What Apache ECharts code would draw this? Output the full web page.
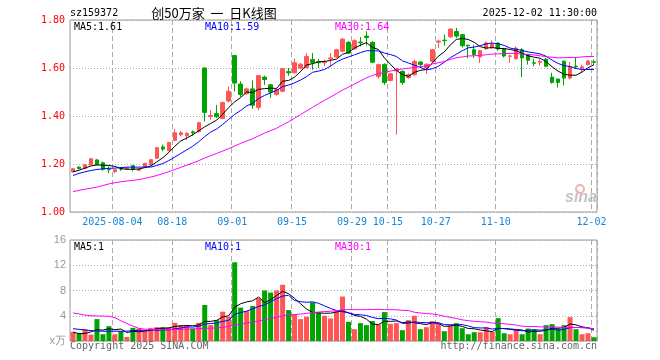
<!DOCTYPE html>
<html><head><meta charset="utf-8">
<script src="https://cdn.jsdelivr.net/npm/echarts@6/dist/echarts.min.js"></script>
<style>html,body{margin:0;padding:0;background:#fff}#c{width:660px;height:360px}</style>
</head><body><div id="c"></div>
<script>
const dates = ['2025-07-24','2025-07-25','2025-07-28','2025-07-29','2025-07-30','2025-07-31',
'2025-08-01','2025-08-04','2025-08-05','2025-08-06','2025-08-07','2025-08-08','2025-08-11','2025-08-12','2025-08-13','2025-08-14','2025-08-15','2025-08-18','2025-08-19','2025-08-20','2025-08-21','2025-08-22','2025-08-25','2025-08-26','2025-08-27','2025-08-28','2025-08-29',
'2025-09-01','2025-09-02','2025-09-03','2025-09-04','2025-09-05','2025-09-08','2025-09-09','2025-09-10','2025-09-11','2025-09-12','2025-09-15','2025-09-16','2025-09-17','2025-09-18','2025-09-19','2025-09-22','2025-09-23','2025-09-24','2025-09-25','2025-09-26','2025-09-29','2025-09-30',
'2025-10-09','2025-10-10','2025-10-13','2025-10-14','2025-10-15','2025-10-16','2025-10-17','2025-10-20','2025-10-21','2025-10-22','2025-10-23','2025-10-24','2025-10-27','2025-10-28','2025-10-29','2025-10-30','2025-10-31',
'2025-11-03','2025-11-04','2025-11-05','2025-11-06','2025-11-07','2025-11-10','2025-11-11','2025-11-12','2025-11-13','2025-11-14','2025-11-17','2025-11-18','2025-11-19','2025-11-20','2025-11-21','2025-11-24','2025-11-25','2025-11-26','2025-11-27','2025-11-28',
'2025-12-01','2025-12-02'];
const labelIdx = [7,17,27,37,47,53,61,71,87];

const opens = [1.168,1.187,1.181,1.197,1.217,1.205,1.178,1.168,1.180,1.179,
1.193,1.174,1.187,1.197,1.224,1.271,1.256,1.299,1.322,1.318,
1.334,1.335,1.600,1.398,1.410,1.390,1.462,1.652,1.533,1.493,
1.513,1.436,1.562,1.530,1.490,1.503,1.585,1.580,1.600,1.602,
1.635,1.626,1.622,1.638,1.646,1.670,1.707,1.680,1.708,1.733,
1.707,1.565,1.614,1.548,1.588,1.586,1.560,1.572,1.625,1.600,
1.628,1.708,1.716,1.730,1.752,1.739,1.695,1.676,1.646,1.680,
1.685,1.704,1.680,1.649,1.638,1.676,1.655,1.622,1.624,1.637,
1.562,1.554,1.628,1.558,1.608,1.600,1.614,1.626];
const closes = [1.180,1.181,1.197,1.222,1.198,1.178,1.176,1.176,1.179,1.183,
1.178,1.180,1.203,1.218,1.268,1.262,1.290,1.330,1.330,1.328,
1.330,1.372,1.415,1.402,1.397,1.456,1.503,1.537,1.490,1.513,
1.445,1.568,1.552,1.500,1.510,1.597,1.580,1.622,1.616,1.648,
1.622,1.622,1.625,1.642,1.676,1.720,1.662,1.714,1.705,1.727,
1.624,1.614,1.540,1.576,1.596,1.540,1.572,1.627,1.615,1.616,
1.676,1.712,1.714,1.762,1.733,1.693,1.692,1.656,1.672,1.704,
1.700,1.679,1.650,1.650,1.683,1.642,1.632,1.620,1.627,1.607,
1.540,1.540,1.558,1.607,1.605,1.605,1.629,1.624];
const lows = [1.165,1.178,1.179,1.195,1.195,1.172,1.162,1.162,1.171,1.176,
1.170,1.172,1.185,1.195,1.222,1.253,1.253,1.295,1.316,1.300,
1.318,1.330,1.378,1.385,1.392,1.386,1.457,1.502,1.480,1.488,
1.430,1.425,1.530,1.476,1.485,1.500,1.568,1.578,1.595,1.598,
1.593,1.600,1.607,1.607,1.642,1.665,1.658,1.676,1.690,1.693,
1.620,1.555,1.530,1.544,1.322,1.530,1.555,1.568,1.600,1.576,
1.625,1.684,1.693,1.727,1.725,1.685,1.640,1.642,1.621,1.676,
1.680,1.672,1.644,1.621,1.635,1.562,1.614,1.607,1.610,1.603,
1.535,1.519,1.527,1.552,1.596,1.582,1.610,1.614];
const highs = [1.183,1.190,1.199,1.224,1.220,1.210,1.190,1.178,1.187,1.186,
1.196,1.182,1.205,1.220,1.270,1.281,1.292,1.347,1.338,1.332,
1.340,1.376,1.602,1.424,1.446,1.460,1.523,1.653,1.545,1.518,
1.548,1.570,1.568,1.533,1.516,1.600,1.600,1.639,1.620,1.662,
1.662,1.638,1.635,1.662,1.680,1.726,1.712,1.720,1.729,1.753,
1.712,1.618,1.620,1.580,1.600,1.590,1.578,1.635,1.628,1.618,
1.680,1.718,1.739,1.765,1.767,1.742,1.697,1.697,1.675,1.710,
1.715,1.708,1.684,1.656,1.690,1.683,1.658,1.637,1.637,1.642,
1.580,1.556,1.632,1.625,1.646,1.614,1.633,1.635];

const ma5 = [1.167,1.174,1.183,1.192,1.196,1.195,1.194,1.190,1.181,1.178,
1.178,1.179,1.185,1.192,1.209,1.226,1.248,1.274,1.296,1.308,
1.322,1.338,1.355,1.369,1.383,1.408,1.435,1.459,1.477,1.500,
1.498,1.511,1.514,1.516,1.515,1.545,1.548,1.562,1.585,1.613,
1.618,1.626,1.627,1.632,1.637,1.657,1.665,1.683,1.695,1.706,
1.686,1.677,1.642,1.616,1.590,1.573,1.565,1.582,1.590,1.594,
1.621,1.649,1.667,1.696,1.719,1.723,1.719,1.707,1.689,1.683,
1.685,1.682,1.681,1.677,1.672,1.661,1.651,1.645,1.641,1.626,
1.605,1.587,1.574,1.570,1.570,1.583,1.601,1.614];
const ma10 = [1.152,1.161,1.167,1.173,1.177,1.180,1.182,1.183,1.185,1.187,
1.187,1.187,1.187,1.187,1.194,1.202,1.214,1.229,1.244,1.259,
1.274,1.293,1.314,1.333,1.346,1.365,1.386,1.407,1.423,1.442,
1.453,1.473,1.486,1.496,1.507,1.522,1.529,1.538,1.550,1.564,
1.582,1.587,1.594,1.608,1.625,1.637,1.646,1.655,1.664,1.672,
1.672,1.671,1.662,1.656,1.648,1.630,1.621,1.612,1.603,1.592,
1.597,1.607,1.624,1.643,1.657,1.672,1.684,1.687,1.693,1.701,
1.704,1.701,1.694,1.683,1.678,1.673,1.667,1.663,1.659,1.649,
1.633,1.619,1.610,1.606,1.598,1.594,1.594,1.594];
const ma30 = [1.085,1.090,1.095,1.099,1.104,1.110,1.117,1.122,1.126,1.129,
1.132,1.135,1.140,1.146,1.152,1.160,1.168,1.177,1.186,1.195,
1.204,1.214,1.225,1.235,1.244,1.254,1.264,1.275,1.286,1.296,
1.305,1.317,1.329,1.339,1.349,1.363,1.376,1.391,1.406,1.421,
1.436,1.451,1.465,1.479,1.493,1.508,1.520,1.533,1.546,1.559,
1.569,1.577,1.581,1.587,1.593,1.596,1.599,1.602,1.606,1.609,
1.617,1.622,1.627,1.636,1.643,1.646,1.650,1.651,1.653,1.655,
1.658,1.659,1.660,1.661,1.661,1.658,1.657,1.654,1.651,1.647,
1.645,1.642,1.643,1.644,1.644,1.646,1.648,1.648];

const volumes = [1.44,1.17,1.87,1.01,3.47,1.07,2.35,1.07,1.55,0.64,
2.08,1.97,1.65,2.08,2.19,2.19,2.19,2.88,2.51,2.51,
1.97,2.88,5.70,2.51,3.30,4.64,3.84,12.47,5.28,4.74,
5.54,6.77,8.00,7.68,8.00,8.90,4.90,4.26,3.47,3.84,
6.13,4.53,4.00,3.57,4.74,7.04,3.04,1.87,2.83,2.51,
3.15,2.61,4.58,2.72,2.83,1.71,3.30,4.00,1.87,2.19,
3.15,2.72,1.55,2.40,2.83,2.03,1.07,1.39,1.39,2.19,
1.44,3.62,1.23,1.07,1.71,1.07,1.97,1.87,1.07,2.51,
2.67,1.97,2.51,3.78,1.87,1.07,1.23,0.59];
const volMa5 = [1.40,1.17,1.20,1.45,1.79,1.72,1.95,1.79,1.90,1.34,
1.54,1.46,1.58,1.68,1.99,2.02,2.06,2.31,2.39,2.46,
2.41,2.55,3.11,3.11,3.27,3.81,4.00,5.35,5.91,6.19,
6.37,6.96,6.07,6.55,7.20,7.87,7.50,6.75,5.91,5.07,
4.52,4.45,4.39,4.41,4.59,4.78,4.48,4.05,3.90,3.46,
2.68,2.59,3.14,3.11,3.18,2.89,3.03,2.91,2.74,2.61,
2.90,2.79,2.30,2.40,2.53,2.31,1.98,1.94,1.74,1.61,
1.50,2.01,1.97,1.91,1.81,1.74,1.41,1.54,1.54,1.70,
2.02,2.02,2.15,2.69,2.56,2.24,2.09,1.71];
const volMa10 = [1.95,1.85,1.75,1.65,1.58,1.55,1.55,1.55,1.55,1.56,
1.63,1.71,1.69,1.79,1.67,1.78,1.76,1.94,2.04,2.23,
2.21,2.31,2.71,2.75,2.86,3.11,3.27,4.23,4.51,4.73,
5.09,5.48,5.71,6.23,6.70,7.12,7.23,6.41,6.23,6.14,
6.20,5.97,5.57,5.16,4.83,4.65,4.46,4.22,4.16,4.03,
3.73,3.54,3.59,3.51,3.32,2.79,2.81,3.02,2.93,2.90,
2.90,2.91,2.60,2.57,2.57,2.60,2.38,2.12,2.07,2.07,
1.90,1.99,1.96,1.83,1.71,1.62,1.71,1.76,1.72,1.76,
1.88,1.71,1.84,2.12,2.13,2.13,2.06,1.93];
const volMa30 = [4.45,4.30,4.10,4.00,3.97,3.95,3.92,3.70,3.20,2.77,
2.35,2.00,1.88,1.82,1.80,1.80,1.80,1.81,1.83,1.87,
1.92,1.97,2.00,2.03,2.07,2.15,2.35,2.50,2.68,2.84,
2.98,3.16,3.37,3.59,3.74,4.00,4.09,4.19,4.26,4.36,
4.50,4.59,4.66,4.71,4.80,4.96,4.99,4.95,4.97,4.97,
5.00,5.00,4.96,4.97,4.95,4.85,4.83,4.55,4.44,4.35,
4.27,4.14,3.92,3.75,3.57,3.35,3.22,3.12,3.05,3.00,
2.84,2.81,2.72,2.64,2.53,2.34,2.30,2.30,2.24,2.24,
2.23,2.20,2.14,2.17,2.14,2.12,2.05,1.94];

const upColor = '#ff5555', downColor = '#00a400';
const mono = '"DejaVu Sans Mono", monospace';
const chart = echarts.init(document.getElementById('c'), null, {renderer: 'canvas'});
const candleData = dates.map((d, i) => [opens[i], closes[i], lows[i], highs[i]]);
const volData = volumes.map((v, i) => ({value: v, itemStyle: {color: closes[i] >= opens[i] ? upColor : downColor}}));
const showIdx = (i) => labelIdx.indexOf(i) >= 0;
const vSplit = {show: true, interval: (i) => showIdx(i), lineStyle: {color: '#aaa', type: [5, 3], width: 1}};
const hSplit = {show: true, lineStyle: {color: '#aaa', type: [1, 2], width: 1}};
function txt(x, y, text, fill, align, font) {
  return {type: 'text', z: 100, style: {x: x, y: y, text: text, fill: fill, textAlign: align || 'left', textVerticalAlign: 'middle', font: font || ('10px ' + mono)}};
}
const line = (name, data, color, xi) => ({name: name, type: 'line', data: data, xAxisIndex: xi, yAxisIndex: xi, symbol: 'none', silent: true,
  lineStyle: {color: color, width: 1}, z: 5});

chart.setOption({
  animation: false,
  grid: [
    {left: 70, top: 20, width: 527, height: 192, show: true, borderColor: '#999', borderWidth: 1},
    {left: 70, top: 240, width: 527, height: 101, show: true, borderColor: '#999', borderWidth: 1}
  ],
  xAxis: [
    {type: 'category', gridIndex: 0, data: dates, boundaryGap: true, axisLine: {show: false}, axisTick: {show: false},
     axisLabel: {interval: (i) => showIdx(i), formatter: (v, i) => (i === 7 ? v : v.slice(5)), color: '#1b86d3', fontFamily: mono, fontSize: 10, margin: 5, padding: [0, 5, 0, 0]},
     splitLine: vSplit},
    {type: 'category', gridIndex: 1, data: dates, boundaryGap: true, axisLine: {show: false}, axisTick: {show: false}, axisLabel: {show: false},
     splitLine: vSplit}
  ],
  yAxis: [
    {type: 'value', gridIndex: 0, min: 1.0, max: 1.8, interval: 0.2, axisLine: {show: false}, axisTick: {show: false},
     axisLabel: {formatter: (v) => v.toFixed(2), color: '#ff0000', fontFamily: mono, fontSize: 10, margin: 5, padding: [3, 0, 0, 0]},
     splitLine: hSplit},
    {type: 'value', gridIndex: 1, min: 0, max: 16, interval: 4, axisLine: {show: false}, axisTick: {show: false},
     axisLabel: {formatter: (v) => (v === 0 ? 'x万' : String(v)), color: '#999', fontFamily: '"Liberation Sans", Arial', fontSize: 11, margin: 4},
     splitLine: hSplit}
  ],
  series: [
    {type: 'candlestick', data: candleData, xAxisIndex: 0, yAxisIndex: 0, barWidth: 4, silent: true,
     itemStyle: {color: upColor, color0: downColor, borderColor: upColor, borderColor0: downColor, borderWidth: 1}, z: 3},
    line('MA5', ma5, '#000000', 0),
    line('MA10', ma10, '#0000ff', 0),
    line('MA30', ma30, '#ff00ff', 0),
    {type: 'bar', data: volData, xAxisIndex: 1, yAxisIndex: 1, barWidth: 5, silent: true, z: 3},
    line('VMA5', volMa5, '#000000', 1),
    line('VMA10', volMa10, '#0000ff', 1),
    line('VMA30', volMa30, '#ff00ff', 1)
  ],
  graphic: [
    txt(70, 13, 'sz159372', '#000'),
    txt(214, 13, '创50万家  一  日K线图', '#000', 'center', '13px "Noto Sans CJK SC"'),
    txt(597, 13, '2025-12-02 11:30:00', '#000', 'right'),
    txt(74, 27, 'MA5:1.61', '#000'),
    txt(205, 27, 'MA10:1.59', '#0000ff'),
    txt(335, 27, 'MA30:1.64', '#ff00ff'),
    txt(74, 247, 'MA5:1', '#000'),
    txt(205, 247, 'MA10:1', '#0000ff'),
    txt(335, 247, 'MA30:1', '#ff00ff'),
    txt(70, 346, 'Copyright 2025 SINA.COM', '#666'),
    txt(597, 346, 'http://finance.sina.com.cn', '#666', 'right'),
    {type: 'circle', z: 90, shape: {cx: 580, cy: 189, r: 4}, style: {fill: 'none', stroke: '#f4b0b0', lineWidth: 2}},
    txt(581, 198, 'sina', '#c4c4c4', 'center', 'italic bold 16px "Liberation Sans"')
  ]
});
</script>
</body></html>
